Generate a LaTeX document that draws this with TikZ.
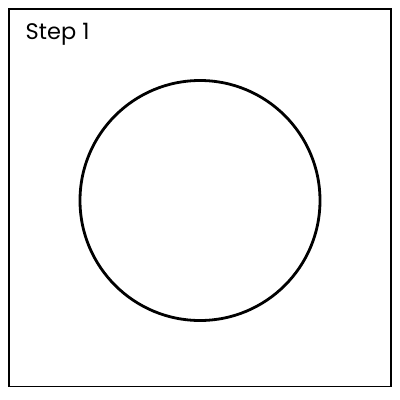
\documentclass[tikz,border=0pt]{standalone}
\usepackage{fontspec}
\setmainfont{Poppins}
\begin{document}
\begin{tikzpicture}[x=1pt,y=-1pt,
  frame/.style={draw=black,line width=1.5pt},
  disc/.style={draw=black,line width=2.8pt},
  title/.style={anchor=base west,inner sep=0pt,font=\fontsize{22.5}{27}\selectfont}]
\useasboundingbox (0,0) rectangle (400,400);
\draw[frame] (9,9) rectangle (391,386.5);
\node[disc,circle,minimum size=240pt,inner sep=0pt] (c) at (200,200.5) {};
\node[title] (t) at (25.5,39.5) {Step 1};
\end{tikzpicture}
\end{document}
